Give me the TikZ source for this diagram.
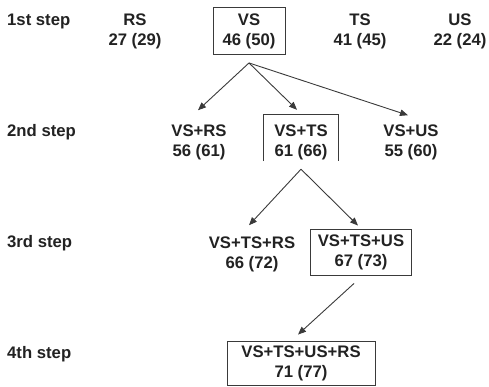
\documentclass[tikz,border=0pt]{standalone}
\usepackage{fontspec}
\setmainfont{Liberation Sans}
\usepackage{xcolor}
\definecolor{cText}{HTML}{222222}
\definecolor{cLine}{HTML}{3A3A3A}
\usepackage{tikz}
\usetikzlibrary{arrows.meta, positioning}
\tikzset{
  lbl/.style   = {align=center, inner sep=2pt, text=cText,
                  font=\fontsize{16.7}{20}\selectfont\bfseries},
  stp/.style   = {lbl, anchor=west},
  box/.style   = {lbl, draw=cLine, line width=0.9pt,
                  minimum width=#1, minimum height=46pt},
  box/.default = 72pt,
  arr/.style   = {-{Triangle[length=8pt, width=6.5pt]}, draw=cLine,
                  line width=0.9pt},
}

\begin{document}
\begin{tikzpicture}[x=1pt, y=-1pt]
  \useasboundingbox (0,0) rectangle (489,387);

  % step labels
  \node[stp] (s1) at (5,21)  {1st step};
  \node[stp] (s2) at (5,132) {2nd step};
  \node[stp] (s3) at (5,243) {3rd step};
  \node[stp] (s4) at (5,354) {4th step};

  % 1st step
  \node[lbl]                               (rs) at (135,31) {RS\\27 (29)};
  \node[box=72pt, minimum height=47pt]     (vs) at (249,31) {VS\\46 (50)};
  \node[lbl]                               (ts) at (360,31) {TS\\41 (45)};
  \node[lbl]                               (us) at (460,31) {US\\22 (24)};

  % 2nd step
  \node[lbl]                               (vsrs) at (199,142) {VS+RS\\56 (61)};
  \node[lbl, minimum width=74pt, minimum height=54pt]
                                           (vsts) at (301,142) {VS+TS\\61 (66)};
  \node[lbl]                               (vsus) at (411,142) {VS+US\\55 (60)};
  \draw[cLine, line width=0.9pt]
    ([yshift=8pt]vsts.south west) |- (vsts.north) -| ([yshift=8pt]vsts.south east);

  % 3rd step
  \node[lbl]                               (vstsrs) at (252,254) {VS+TS+RS\\66 (72)};
  \node[box=101pt]                         (vstsus) at (361,252) {VS+TS+US\\67 (73)};

  % 4th step
  \node[box=148pt, minimum height=44pt]    (all) at (301,363) {VS+TS+US+RS\\71 (77)};

  \coordinate[below=8pt of vs.south] (vsfork);
  \draw[arr] (vsfork) -- ([xshift=-1pt, yshift=12pt]vsrs.north);
  \draw[arr] (vsfork) -- ([xshift=-4pt, yshift=5pt]vsts.north);
  \draw[arr] (vsfork) -- ([xshift=-3pt, yshift=7pt]vsus.north);

  \draw[arr] (vsts.south) -- ([xshift=-3pt, yshift=9pt]vstsrs.north);
  \draw[arr] (vsts.south) -- ([xshift=-3pt, yshift=3pt]vstsus.north);

  \draw[arr] ([xshift=-7pt, yshift=-8pt]vstsus.south) -- ([xshift=-3pt, yshift=6pt]all.north);
\end{tikzpicture}
\end{document}
